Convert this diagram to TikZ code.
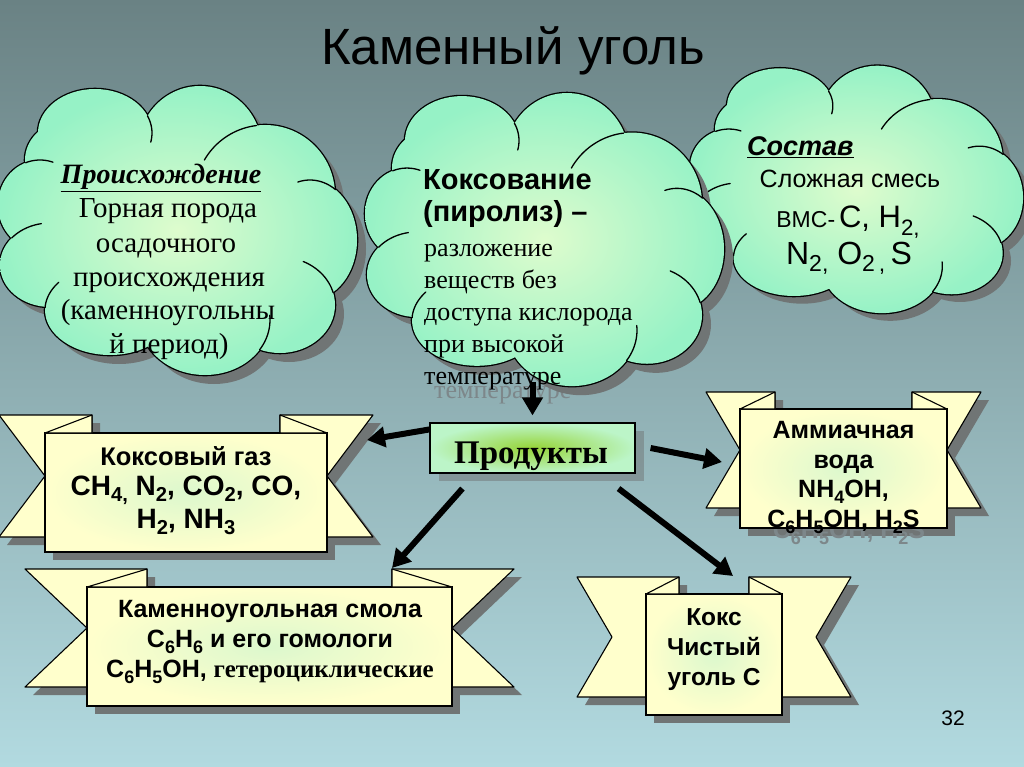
\documentclass[tikz,border=0pt]{standalone}
\usepackage{fontspec}
\setmainfont{Liberation Serif}
\newfontfamily\arialf{Liberation Sans}
\usetikzlibrary{shadows,arrows.meta,calc}
\definecolor{bgtop}{RGB}{106,130,132}
\definecolor{bgbot}{RGB}{178,218,224}
\definecolor{cloudin}{RGB}{222,252,205}
\definecolor{cloudout}{RGB}{150,242,198}
\definecolor{ribbony}{RGB}{255,255,204}
\definecolor{ribbonc}{RGB}{220,248,205}
\definecolor{prodg}{RGB}{188,245,200}
\definecolor{prodglow}{RGB}{150,212,55}
\definecolor{shadowc}{RGB}{112,117,117}
\definecolor{ghostc}{RGB}{125,135,138}
\newcommand\fA[1]{\arialf\fontsize{#1}{#1}\selectfont}
\newcommand\fAb[1]{\arialf\bfseries\fontsize{#1}{#1}\selectfont}
\newcommand\fT[1]{\rmfamily\fontsize{#1}{#1}\selectfont}
\newcommand\sub[1]{\raisebox{-0.24em}{\scalebox{0.72}{#1}}}
% cloud template, drawn in the frame of the left cloud (box -3..359 x 84..376)
\def\puffs{(95,133) ellipse[x radius=57,y radius=44]
 (200,150) ellipse[x radius=62,y radius=64]
 (265,195) ellipse[x radius=70,y radius=70]
 (310,240) ellipse[x radius=47,y radius=60]
 (280,305) ellipse[x radius=55,y radius=48]
 (205,320) ellipse[x radius=65,y radius=55]
 (110,310) ellipse[x radius=65,y radius=45]
 (50,265) ellipse[x radius=50,y radius=42]
 (40,205) ellipse[x radius=42,y radius=45]
 (70,160) ellipse[x radius=45,y radius=40]
 (180,235) ellipse[x radius=140,y radius=100]}
% inner arcs: each starts where two puffs meet on the outline and runs inward
\def\puffarcs{plot[domain=-23:12,samples=12] ({95+57*cos(\x)},{133+44*sin(\x)})
 plot[domain=-97:-150,samples=20] ({265+70*cos(\x)},{195+70*sin(\x)})
 plot[domain=-57:-105,samples=16] ({310+47*cos(\x)},{240+60*sin(\x)})
 plot[domain=-15:-65,samples=16] ({280+55*cos(\x)},{305+48*sin(\x)})
 plot[domain=-140:-100,samples=12] ({50+50*cos(\x)},{265+42*sin(\x)})
 plot[domain=-110:-72,samples=12] ({40+42*cos(\x)},{205+45*sin(\x)})
 plot[domain=-177:-142,samples=12] ({110+65*cos(\x)},{310+45*sin(\x)})
 plot[domain=33:-5,samples=12] ({205+65*cos(\x)},{320+55*sin(\x)})}
% #1 left, #2 top, #3 x scale, #4 y scale
\newcommand\puffcloud[4]{%
  \begin{scope}[shift={(#1,#2)},xscale=#3,yscale=#4,shift={(3,-84)}]
    \fill[shadowc,xshift=9pt,yshift=-9pt] \puffs;
    \draw[line width=2.6pt] \puffs;
    \shade[inner color=cloudin,outer color=cloudout] \puffs;
    \draw[line width=1.3pt,line cap=round] \puffarcs;
  \end{scope}}
% #1 cx, #2 outer half, #3 notch half, #4 centre half, #5 fold half, #6 wing top, #7 wing bottom, #8 centre top, #9 centre bottom
\newcommand\ribbonback[9]{%
  \fill[shadowc,shift={(8,8)}] ({#1-#2},#6) -- ({#1-#5},#6) -- ({#1-#5},#7) -- ({#1-#2},#7) -- ({#1-#3},{(#6+#7)/2}) -- cycle;
  \fill[shadowc,shift={(8,8)}] ({#1+#2},#6) -- ({#1+#5},#6) -- ({#1+#5},#7) -- ({#1+#2},#7) -- ({#1+#3},{(#6+#7)/2}) -- cycle;
  \fill[shadowc,shift={(8,8)}] ({#1-#4},#8) rectangle ({#1+#4},#9);
  \filldraw[ribwing] ({#1-#2},#6) -- ({#1-#5},#6) -- ({#1-#5},#7) -- ({#1-#2},#7) -- ({#1-#3},{(#6+#7)/2}) -- cycle;
  \filldraw[ribwing] ({#1+#2},#6) -- ({#1+#5},#6) -- ({#1+#5},#7) -- ({#1+#2},#7) -- ({#1+#3},{(#6+#7)/2}) -- cycle;
}
% #1 cx, #2 centre half, #3 fold half, #4 wing top, #5 centre top
\newcommand\ribbonfolds[5]{%
  \filldraw[ribwing] ({#1-#3},#4) -- ({#1-#3},#5) -- ({#1-#2},#5) -- cycle;
  \filldraw[ribwing] ({#1+#3},#4) -- ({#1+#3},#5) -- ({#1+#2},#5) -- cycle;
}
\begin{document}
\begin{tikzpicture}[x=1pt,y=-1pt,
  tx/.style={inner sep=0pt,anchor=base},
  txw/.style={inner sep=0pt,anchor=base west},
  cloudarea/.style={inner sep=0pt,draw=none},
  ribwing/.style={fill=ribbony,draw=black,line width=1.1pt,line join=round},
  ribcenter/.style={draw=black,line width=1.1pt,inner color=ribbonc,outer color=ribbony,inner sep=0pt},
  prodbox/.style={draw=black,line width=1.1pt,inner color=prodglow,outer color=prodg,inner sep=0pt,
    drop shadow={shadow xshift=9pt,shadow yshift=-8pt,fill=shadowc}},
  arr/.style={line width=6pt,-{Triangle[length=18pt,width=20pt]}},
  ghost/.style={inner sep=0pt,anchor=base west,text=ghostc}]
\useasboundingbox (0,0) rectangle (1024,767);
\shade[top color=bgtop,bottom color=bgbot] (0,0) rectangle (1024,767);

\node[tx,font=\fA{51}] (title) at (513,65) {Каменный уголь};

% ghost text shadow
\node[ghost,font=\fT{26}] (gh1) at (434,398) {температуре};

% clouds
\puffcloud{689}{64}{0.928}{0.856}
\node[cloudarea,minimum width=336pt,minimum height=250pt] (c3) at (857,189) {};
\puffcloud{-3}{84}{1}{1}
\node[cloudarea,minimum width=362pt,minimum height=292pt] (c1) at (178,230) {};
\puffcloud{364}{91}{1}{1.014}
\node[cloudarea,minimum width=362pt,minimum height=296pt] (c2) at (545,239) {};

% left cloud text
\node[tx,font=\fT{28}\bfseries\itshape] (o0) at (161,184) {\underline{Происхождение}};
\node[tx,font=\fT{29}] (o1) at (168,218) {Горная порода};
\node[tx,font=\fT{29}] (o2) at (166,252) {осадочного};
\node[tx,font=\fT{29}] (o3) at (169,286) {происхождения};
\node[tx,font=\fT{29}] (o4) at (168,319) {(каменноугольны};
\node[tx,font=\fT{29}] (o5) at (169,353) {й период)};

% middle cloud text
\node[txw,font=\fAb{29}] (k0) at (423,190) {Коксование};
\node[txw,font=\fAb{29}] (k1) at (423,222) {(пиролиз) –};
\node[txw,font=\fT{26}] (k2) at (424,256) {разложение};
\node[txw,font=\fT{26}] (k3) at (424,288) {веществ без};
\node[txw,font=\fT{26}] (k4) at (424,320) {доступа кислорода};
\node[txw,font=\fT{26}] (k5) at (424,352) {при высокой};
\node[txw,font=\fT{26}] (k6) at (424,384) {температуре};

% right cloud text
\node[txw,font=\fAb{27}\itshape] (s0) at (747,156) {\underline{Состав}};
\node[tx,font=\fA{25}] (s1) at (850,188) {Сложная смесь};
\node[tx,font=\fA{31}] (s2) at (848,228) {{\fA{23}ВМС-\,}C, H\sub{2,}};
\node[tx,font=\fA{32}] (s3) at (849,264) {N\sub{2,} O\sub{2\,,}\,S};

% product box
\node[prodbox,minimum width=205pt,minimum height=50pt] (prod) at (532.5,448) {};
\node[tx,font=\fT{33}\bfseries] (pt) at (531,463) {Продукты};

% coke gas ribbon
\ribbonback{186}{187}{141}{141}{94}{415}{537}{433}{552}
\node[ribcenter,minimum width=282pt,minimum height=119pt] (gas) at (186,492.5) {};
\ribbonfolds{186}{141}{94}{415}{433}
\node[tx,font=\fAb{25.5}] (g0) at (186,465) {Коксовый газ};
\node[tx,font=\fAb{28}] (g1) at (186,495) {CH\sub{4,} N\sub{2}, CO\sub{2}, CO,};
\node[tx,font=\fAb{28}] (g2) at (186,528) {H\sub{2}, NH\sub{3}};

% ammonia water ribbon
\ribbonback{843.5}{137.5}{103.5}{103.5}{68.5}{392}{508}{409}{528}
\node[ghost,font=\fAb{25},anchor=base] (gh2) at (849,538) {C\sub{6}H\sub{5}OH, H\sub{2}S};
\node[ribcenter,minimum width=207pt,minimum height=119pt] (amm) at (843.5,468.5) {};
\ribbonfolds{843.5}{103.5}{68.5}{392}{409}
\node[tx,font=\fAb{25}] (a0) at (843.5,438) {Аммиачная};
\node[tx,font=\fAb{25}] (a1) at (843.5,468) {вода};
\node[tx,font=\fAb{25}] (a2) at (843.5,497) {NH\sub{4}OH,};
\node[tx,font=\fAb{25}] (a3) at (843.5,527) {C\sub{6}H\sub{5}OH, H\sub{2}S};

% coal tar ribbon
\ribbonback{269.5}{244.5}{182.5}{182.5}{122.5}{569}{687}{587}{706}
\node[ribcenter,minimum width=365pt,minimum height=119pt] (tar) at (269.5,646.5) {};
\ribbonfolds{269.5}{182.5}{122.5}{569}{587}
\node[tx,font=\fAb{25}] (t0) at (270,617) {Каменноугольная смола};
\node[tx,font=\fAb{25}] (t1) at (270,647) {C\sub{6}H\sub{6} и его гомологи};
\node[tx,font=\fAb{25}] (t2) at (270,677) {C\sub{6}H\sub{5}OH, {\fT{25}\bfseries гетероциклические}};

% coke ribbon
\ribbonback{714}{137}{102}{68}{35}{577}{697}{594}{715}
\node[ribcenter,minimum width=136pt,minimum height=121pt] (coke) at (714,654.5) {};
\ribbonfolds{714}{68}{35}{577}{594}
\node[tx,font=\fAb{24.5}] (e0) at (714,625) {Кокс};
\node[tx,font=\fAb{24.5}] (e1) at (714,655) {Чистый};
\node[tx,font=\fAb{24.5}] (e2) at (714,685) {уголь С};

% page number
\node[tx,font=\fA{21}] (pg) at (953,725) {32};

% arrows
\coordinate (tgas) at (367,440);
\coordinate (tamm) at (722,462);
\coordinate (ttar) at (392,568);
\coordinate (tcoke) at (733,576);
\draw[arr] ([yshift=5pt]prod.north |- c2.south) -- ([yshift=7pt]prod.north);
\draw[arr] ([yshift=-7pt]prod.north west) -- (tgas);
\draw[arr] ([xshift=15pt]prod.east) -- (tamm);
\draw[arr] ([xshift=33pt,yshift=-15pt]prod.south west) -- (ttar);
\draw[arr] ([xshift=-17pt,yshift=-15pt]prod.south east) -- (tcoke);
\end{tikzpicture}
\end{document}
